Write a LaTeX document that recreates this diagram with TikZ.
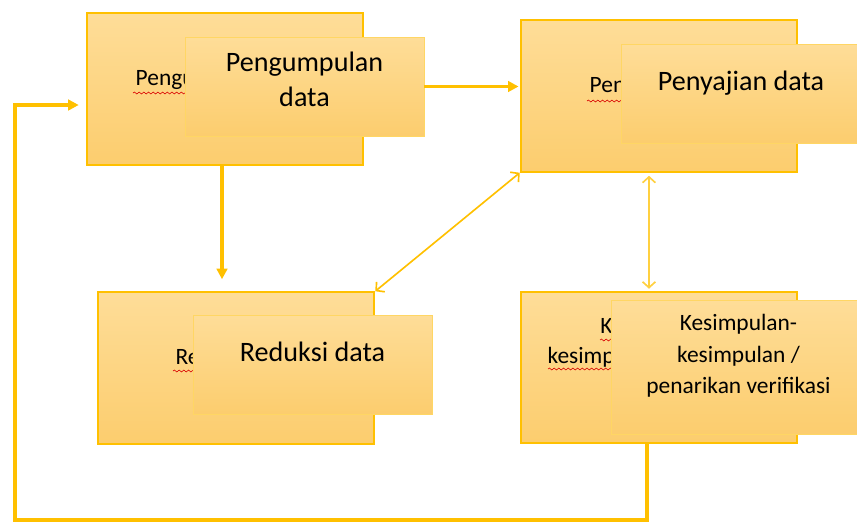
\documentclass[tikz,border=0pt]{standalone}
\usepackage{fontspec}
\setmainfont{Carlito}
\usetikzlibrary{arrows.meta, positioning, calc, decorations.pathmorphing}
\definecolor{gold}{RGB}{255,192,0}
\definecolor{boxtop}{RGB}{254,221,152}
\definecolor{boxbot}{RGB}{252,205,110}
\definecolor{edgelight}{RGB}{255,214,100}

\begin{document}
\begin{tikzpicture}[
  x=0.03cm, y=-0.03cm,
  backbox/.style={
    rectangle, draw=gold, line width=1.6pt,
    top color=boxtop, bottom color=boxbot,
    minimum width=8.3cm, minimum height=4.55cm,
    inner sep=0pt, align=center, text depth=20pt,
    font=\fontsize{20}{26}\selectfont
  },
  frontbox/.style={
    rectangle, draw=edgelight, line width=0.7pt,
    top color=boxtop, bottom color=boxbot,
    minimum width=7.17cm, minimum height=2.97cm,
    inner sep=0pt, align=center, text depth=22pt,
    font=\fontsize{24}{30}\selectfont
  },
  flow/.style={gold, line width=2.6pt, -{Triangle[length=9pt,width=9pt]}},
  link/.style={gold, line width=1.4pt,
    {Straight Barb[length=5pt,width=11pt]}-{Straight Barb[length=5pt,width=11pt]}},
  typo/.style={red!85!black, line width=0.5pt, decorate,
    decoration={snake, amplitude=0.8pt, segment length=4pt}}
]
\useasboundingbox (0,0) rectangle (857,523);

% back boxes
\node[backbox] (pengumpulan) at (225,89)    {Pengumpulan data};
\node[backbox] (penyajian)   at (659,96)    {Penyajian data};
\node[backbox] (reduksi)     at (236,368)   {Reduksi data};
\node[backbox] (kesimpulan)  at (659,367.5) {Kesimpulan-\\kesimpulan / penarikan\\verifikasi};

% spelling marks
\draw[typo] (133,93) -- (240,93);
\draw[typo] (587,101) -- (640,101);
\draw[typo] (173,371) -- (220,371);
\draw[typo] (600,340) -- (630,340);
\draw[typo] (548,369) -- (630,369);

% front boxes
\node[frontbox, text depth=12pt] (pengumpulantop) at (304.5,86.5) {Pengumpulan\\data};
\node[frontbox] (penyajiantop) at (741,93.5) {Penyajian data};
\node[frontbox] (reduksitop)   at (312.5,364.5) {Reduksi data};
\node[frontbox, minimum width=7.65cm, minimum height=4.02cm,
      font=\fontsize{20}{27}\selectfont] (kesimpulantop) at (738.5,367)
      {Kesimpulan-\\kesimpulan /\\penarikan verifikasi};

\coordinate (loopcorner) at (15,520);

\draw[flow, shorten >=1pt] (pengumpulantop.east) -- (pengumpulantop.east -| penyajian.west);
\draw[flow, shorten >=0.36cm] ([xshift=-0.09cm]pengumpulan.south)
  -- ([xshift=-0.09cm]pengumpulan.south |- reduksi.north);
\draw[link] (reduksi.north east) -- (penyajian.south west);
\draw[link, gold!75, shorten <=0.09cm, shorten >=0.06cm] ([xshift=-0.3cm]penyajian.south)
  -- ([xshift=-0.3cm]penyajian.south |- kesimpulan.north);
\draw[flow, shorten >=0.21cm] ([xshift=-0.36cm]kesimpulan.south) |- (loopcorner)
  |- ([yshift=-0.48cm]pengumpulan.west);
\end{tikzpicture}
\end{document}
